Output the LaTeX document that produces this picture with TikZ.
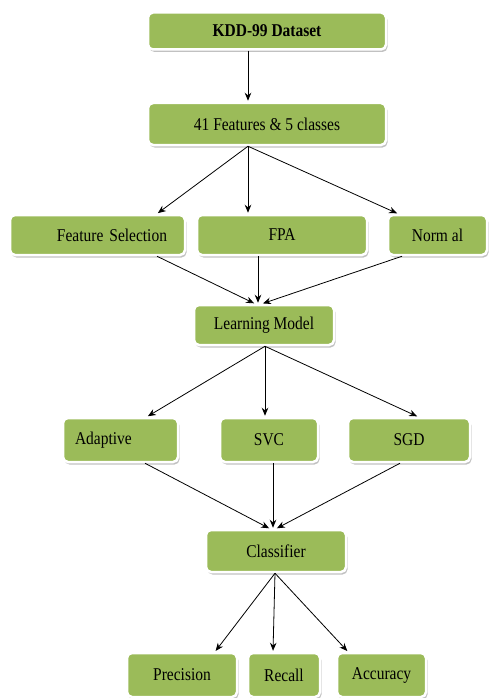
\documentclass[tikz,border=0pt]{standalone}
\usepackage{fontspec}
\setmainfont[FakeStretch=0.86]{Liberation Serif}
\usetikzlibrary{arrows.meta,shadows}
\definecolor{boxGreen}{HTML}{9BBB59}
\begin{document}
\begin{tikzpicture}[x=1pt,y=-1pt,
  boxG/.style={draw=white, line width=2.5pt, fill=boxGreen, rounded corners=5pt,
    drop shadow={shadow xshift=1.5pt, shadow yshift=-2.5pt, fill=black!30, opacity=0.8},
    font=\fontsize{18}{20}\selectfont, inner sep=0pt, minimum height=40pt},
  arr/.style={-{Stealth[length=8pt,width=6.5pt]}, thick, shorten >=1pt}]

\useasboundingbox (0,0) rectangle (488,698);

\node[boxG, minimum width=238pt, minimum height=37pt, font=\fontsize{18}{20}\selectfont\bfseries] (kdd) at (267,31) {KDD-99 Dataset};
\node[boxG, minimum width=238pt, minimum height=42pt] (feat) at (267,124) {41 Features \& 5 classes};

\node[boxG, text width=139pt, align=right, inner xsep=18pt] (fSel) at (97.5,235) {Feature Selection};
\node[boxG, minimum width=170pt] (fpa) at (282,235) {FPA};
\node[boxG, minimum width=99pt] (norm) at (437.5,235) {Norm al};

\node[boxG, minimum width=140pt] (learn) at (264,325) {Learning Model};

\node[boxG, text width=91pt, align=left, inner xsep=12pt, minimum height=44pt] (adap) at (120.5,440) {Adaptive};
\node[boxG, minimum width=98pt, minimum height=44pt] (svc) at (269,440) {SVC};
\node[boxG, minimum width=122pt, minimum height=44pt] (sgd) at (409,440) {SGD};

\node[boxG, minimum width=140pt, minimum height=42pt] (clas) at (276,551) {Classifier};

\node[boxG, minimum width=110pt, minimum height=44pt] (prec) at (182,675) {Precision};
\node[boxG, minimum width=72pt, minimum height=44pt] (rec) at (284,675) {Recall};
\node[boxG, minimum width=89pt, minimum height=44pt] (acc) at (381.5,675) {Accuracy};

% top part
\draw[arr] ([xshift=-19pt]kdd.south) -- ([xshift=-19pt]feat.north);
\draw[arr] ([xshift=-19pt]feat.south) -- ([xshift=59.5pt]fSel.north);
\draw[arr] ([xshift=-19pt]feat.south) -- ([xshift=-34pt]fpa.north);
\draw[arr] ([xshift=-19pt]feat.south) -- ([xshift=-39.5pt]norm.north);

\draw[arr] ([xshift=59.5pt]fSel.south) -- ([xshift=-9pt]learn.north);
\draw[arr] ([xshift=-24pt]fpa.south) -- ([xshift=-6pt]learn.north);
\draw[arr] ([xshift=-35.5pt]norm.south) -- ([xshift=-2pt]learn.north);

% middle part
\draw[arr] ([xshift=1pt]learn.south) -- ([xshift=26.5pt]adap.north);
\draw[arr] ([xshift=1pt]learn.south) -- ([xshift=-4pt]svc.north);
\draw[arr] ([xshift=1pt]learn.south) -- ([xshift=9pt]sgd.north);

\draw[arr] ([xshift=24.5pt]adap.south) -- ([xshift=-6pt]clas.north);
\draw[arr] ([xshift=4pt]svc.south) -- ([xshift=-3pt]clas.north);
\draw[arr] ([xshift=-9pt]sgd.south) -- (clas.north);

% bottom part
\draw[arr] ([xshift=-1pt]clas.south) -- ([xshift=33pt]prec.north);
\draw[arr] ([xshift=-1pt]clas.south) -- ([xshift=-11pt]rec.north);
\draw[arr] ([xshift=-1pt]clas.south) -- ([xshift=-33.5pt]acc.north);
\end{tikzpicture}
\end{document}
